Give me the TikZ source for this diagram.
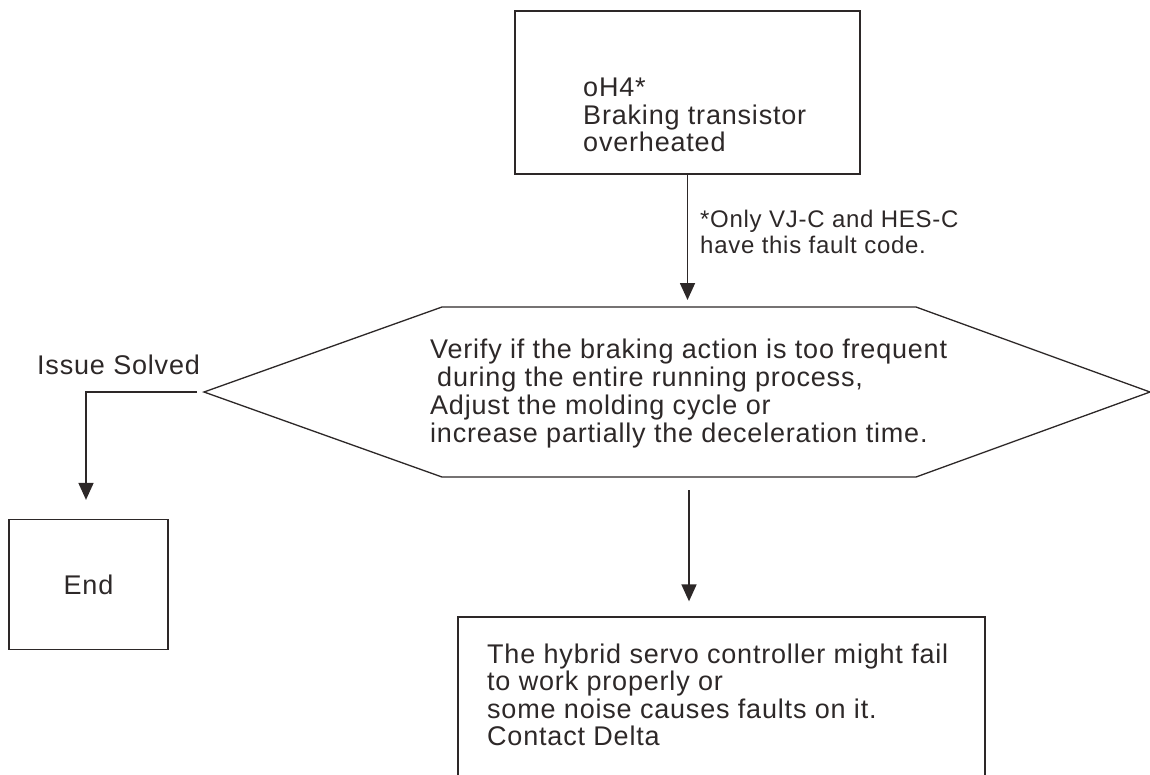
\documentclass[tikz,border=0pt]{standalone}
\usepackage{fontspec}
\setmainfont{Liberation Sans}[LetterSpace=3]
\usetikzlibrary{arrows.meta}
\definecolor{ink}{RGB}{45,40,40}
\tikzset{
  every node/.style={text=ink},
  txt/.style={font=\fontsize{27}{27.5}\selectfont, align=left, inner sep=0pt, anchor=north west},
  frame/.style={draw=ink, line width=1.3pt},
  conn/.style={draw=ink, line width=1.7pt},
  arr/.style={conn, -{Triangle[length=17pt,width=15pt]}},
}
\begin{document}
\begin{tikzpicture}[x=1pt,y=-1pt]
\useasboundingbox (0,0) rectangle (1150,774);
% top box
\node[frame, minimum width=345pt, minimum height=163pt, inner sep=0pt] (top) at (687.5,92.5) {};
\node[txt] (toptxt) at (583,78) {oH4*\\Braking transistor\\overheated};
% note
\node[txt, font=\fontsize{24}{26}\selectfont] (note) at (700,210) {*Only VJ-C and HES-C\\have this fault code.};
% hexagon
\draw[frame] (204,392) coordinate (hexL) -- (442,307) -- (916,307) -- (1150,392) -- (916,477) -- (442,477) -- cycle;
\coordinate (hexT) at (687.5,307);
\coordinate (hexB) at (689,477);
\node[txt, font=\fontsize{27}{28}\selectfont] (hextxt) at (430,338.5) {Verify if the braking action is too frequent\\\hspace*{7pt}during the entire running process,\\Adjust the molding cycle or\\increase partially the deceleration time.};
% issue solved
\node[txt] (issue) at (37,354.5) {Issue Solved};
\node[frame, minimum width=159pt, minimum height=130pt, inner sep=0pt, font=\fontsize{27}{28}\selectfont] (end) at (88.5,584.5) {End};
\coordinate (corner) at (86,392);
% bottom box (open at the bottom)
\node[frame, minimum width=527pt, minimum height=183pt, inner sep=0pt] (bot) at (721.5,708.5) {};
\node[txt] (bottxt) at (487,643.5) {The hybrid servo controller might fail\\to work properly or\\some noise causes faults on it.\\Contact Delta};
% connectors
\draw[arr] (top.south -| hexT) -- ([yshift=7pt]hexT);
\draw[arr] ([xshift=-7pt]hexL) -- (corner) -- ([yshift=19pt]end.north -| corner);
\draw[arr] ([yshift=-13pt]hexB) -- ([yshift=15pt]bot.north -| hexB);
\end{tikzpicture}
\end{document}
